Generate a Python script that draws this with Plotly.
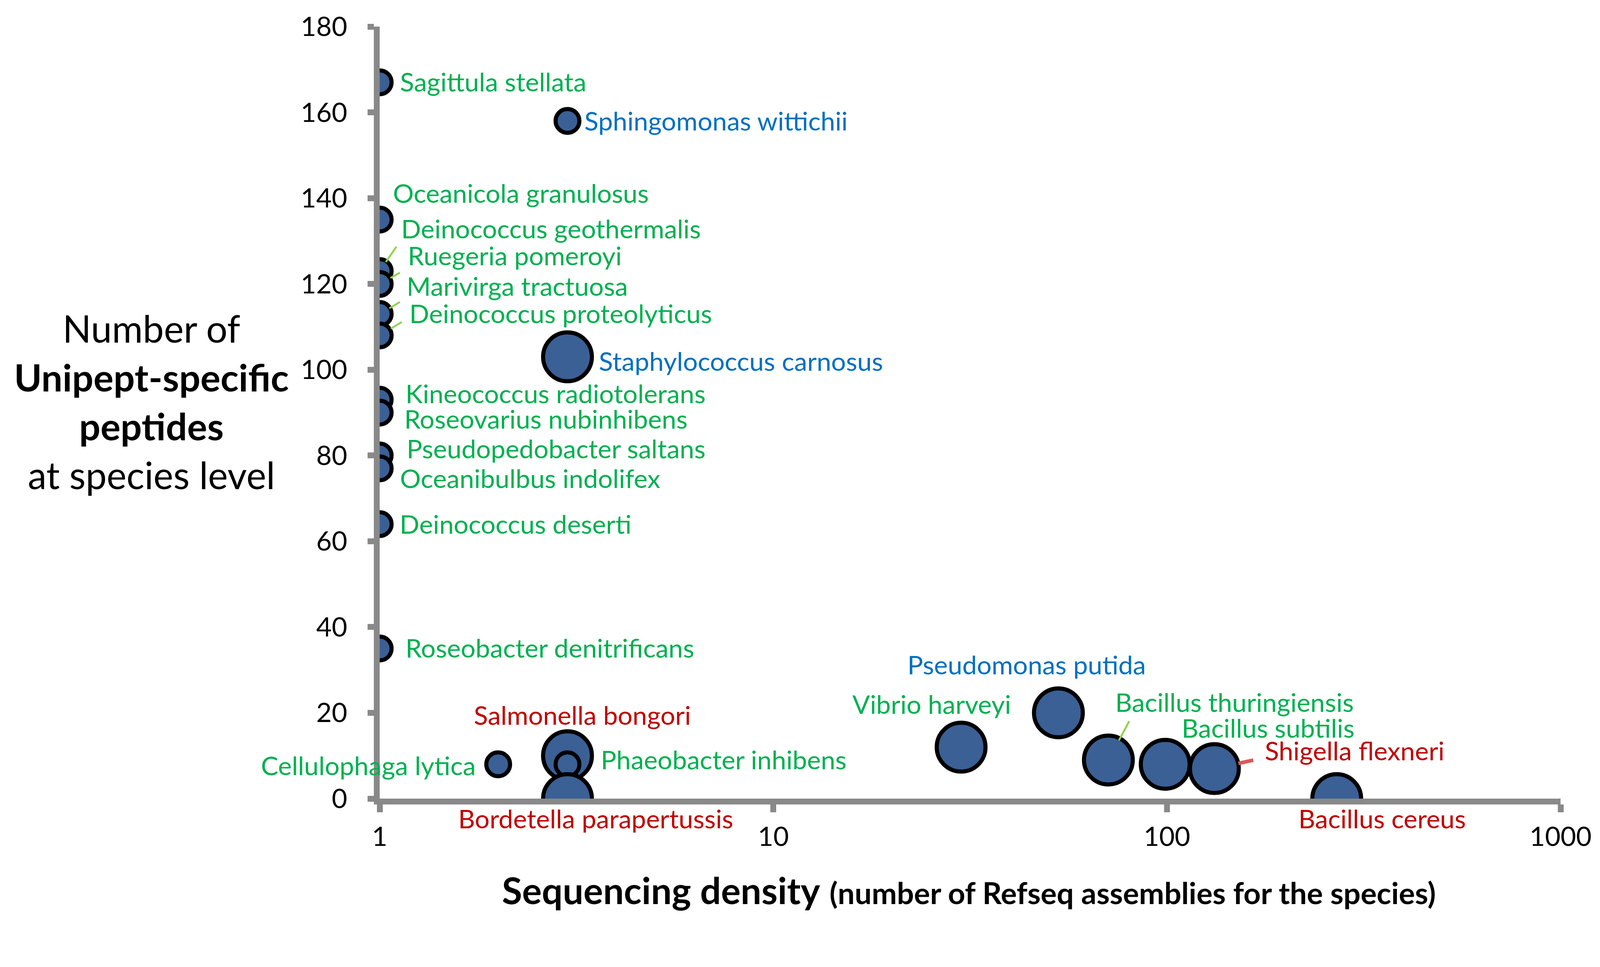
import math
import plotly.graph_objects as go

# ---------------- data ----------------
species = [
    "Sagittula stellata", "Oceanicola granulosus", "Deinococcus geothermalis",
    "Ruegeria pomeroyi", "Marivirga tractuosa", "Deinococcus proteolyticus",
    "Kineococcus radiotolerans", "Roseovarius nubinhibens", "Pseudopedobacter saltans",
    "Oceanibulbus indolifex", "Deinococcus deserti", "Roseobacter denitrificans",
    "Sphingomonas wittichii", "Staphylococcus carnosus", "Cellulophaga lytica",
    "Salmonella bongori", "Phaeobacter inhibens", "Bordetella parapertussis",
    "Vibrio harveyi", "Pseudomonas putida", "Bacillus thuringiensis",
    "Bacillus subtilis", "Shigella flexneri", "Bacillus cereus",
]
refseq_assemblies = [1, 1, 1, 1, 1, 1, 1, 1, 1, 1, 1, 1,
                     3, 3, 2, 3, 3, 3, 30, 53, 71, 99, 132, 270]
unipept_peptides = [167, 135, 123, 120, 113, 108, 93, 90, 80, 77, 64, 35,
                    158, 103, 8, 10, 8, 0, 12, 20, 9, 8, 7, 0]
bubble_value = [1, 1, 1, 1, 1, 1, 1, 1, 1, 1, 1, 1,
                1, 4.2, 1, 4.2, 1, 4.2, 4.2, 4.2, 4.2, 4.2, 4.2, 4.2]
label_class = ["g", "g", "g", "g", "g", "g", "g", "g", "g", "g", "g", "g",
               "b", "b", "g", "r", "g", "r", "g", "b", "g", "g", "r", "r"]

x_tick_vals = [1, 10, 100, 1000]
y_tick_vals = [0, 20, 40, 60, 80, 100, 120, 140, 160, 180]

# ---------------- styles / geometry ----------------
# the page is photographed at ~1.05 device pixels per CSS pixel, with an 8px body margin
DPR = 1.05
BODY = 8


def S(v):  # length in target pixels -> CSS pixels
    return v / DPR


def P(v):  # absolute position in target pixels -> CSS pixels
    return v / DPR - BODY


FONT = "Lato"
class_color = {"g": "#00B050", "b": "#0070C0", "r": "#C00000"}
AXIS_GRAY = "#898989"
FILL = "#3A6095"
BASE_D = 64  # marker diameter (target px) for bubble value 1
LABEL_LIFT = 5  # global vertical nudge of the data labels (target px)

# plot area in target pixels
PLOT_L, PLOT_R, PLOT_T, PLOT_B = 1021, 4195, 71.5, 2146
FIG_W, FIG_H = 4309, 2475

l_css = P(PLOT_L)
t_css = P(PLOT_T)
w_css = S(PLOT_R - PLOT_L)
h_css = S(PLOT_B - PLOT_T)
fig_w_css = P(FIG_W)
fig_h_css = P(FIG_H)
r_css = fig_w_css - l_css - w_css
b_css = fig_h_css - t_css - h_css

# label placement: anchor, xshift, yshift (target pixels relative to the bubble centre)
label_pos = {
    "Sagittula stellata": ("left", 53, -2),
    "Sphingomonas wittichii": ("left", 43, -3),
    "Oceanicola granulosus": ("left", 34, 67),
    "Deinococcus geothermalis": ("left", 56, 110),
    "Ruegeria pomeroyi": ("left", 73, 72),
    "Marivirga tractuosa": ("left", 70, 71),
    "Deinococcus proteolyticus": ("left", 78, 55),
    "Staphylococcus carnosus": ("left", 82, -15),
    "Kineococcus radiotolerans": ("left", 67, 13),
    "Roseovarius nubinhibens": ("left", 64, -21),
    "Pseudopedobacter saltans": ("left", 70, 15),
    "Oceanibulbus indolifex": ("left", 53, -31),
    "Deinococcus deserti": ("left", 51, -4),
    "Roseobacter denitrificans": ("left", 67, -2),
    "Pseudomonas putida": ("center", -86, 126),
    "Vibrio harveyi": ("center", -79, 112),
    "Salmonella bongori": ("center", 40, 105),
    "Bacillus thuringiensis": ("left", 16, 152),
    "Bacillus subtilis": ("left", 42, 94),
    "Shigella flexneri": ("left", 134, 44),
    "Cellulophaga lytica": ("right", -58, -7),
    "Phaeobacter inhibens": ("left", 87, 9),
    "Bordetella parapertussis": ("center", 76, -58),
    "Bacillus cereus": ("center", 122, -58),
}

# leader lines: tail offset (ax, ay), standoff, colour, width (target pixels)
leaders = {
    "Deinococcus geothermalis": (46, -67, 29, "#92D050", 5),
    "Ruegeria pomeroyi": (56, -31, 33, "#92D050", 5),
    "Marivirga tractuosa": (56, -33, 30, "#92D050", 5),
    "Deinococcus proteolyticus": (61, -37, 35, "#92D050", 5),
    "Bacillus thuringiensis": (57, -106, 60, "#92D050", 5),
    "Shigella flexneri": (106, -23, 66, "#D65B5B", 10),
}

marker_sizes = [S(BASE_D * math.sqrt(v)) for v in bubble_value]

fig = go.Figure()
fig.add_trace(go.Scatter(
    x=refseq_assemblies, y=unipept_peptides, mode="markers",
    text=species, hoverinfo="text",
    marker=dict(size=marker_sizes, sizemode="diameter", color=FILL,
                line=dict(color="black", width=S(11)), opacity=1),
    cliponaxis=True, showlegend=False,
))

annotations = []
for name, xv, yv, cls in zip(species, refseq_assemblies, unipept_peptides, label_class):
    anchor, xs, ys = label_pos[name]
    annotations.append(dict(
        x=math.log10(xv), y=yv, xref="x", yref="y", text=name, showarrow=False,
        xanchor=anchor, yanchor="middle", xshift=S(xs), yshift=S(ys + LABEL_LIFT),
        font=dict(family=FONT, size=S(70), color=class_color[cls]),
    ))
    if name in leaders:
        ax, ay, so, col, w = leaders[name]
        annotations.append(dict(
            x=math.log10(xv), y=yv, xref="x", yref="y", text="", showarrow=True,
            ax=S(ax), ay=S(ay), arrowhead=0, arrowwidth=S(w), arrowcolor=col,
            standoff=S(so),
        ))


def paper_x(px):
    return (P(px) - l_css) / w_css


def paper_y(py):
    return (t_css + h_css - P(py)) / h_css


# axis titles
annotations.append(dict(
    xref="paper", yref="paper", x=paper_x(407), y=paper_y(1078),
    text="Number of<br><b>Unipept-specific</b><br><b>peptides</b><br>at species level",
    showarrow=False, xanchor="center", yanchor="middle", align="center",
    font=dict(family=FONT, size=S(101), color="black"),
))
annotations.append(dict(
    xref="paper", yref="paper", x=paper_x(2605), y=paper_y(2391),
    text=("<b>Sequencing density</b> <b><span style='font-size:%.1fpx'>"
          "(number of Refseq assemblies for the species)</span></b>") % S(81),
    showarrow=False, xanchor="center", yanchor="middle",
    font=dict(family=FONT, size=S(99), color="black"),
))

fig.update_layout(
    width=round(fig_w_css), height=round(fig_h_css),
    margin=dict(l=l_css, r=r_css, t=t_css, b=b_css, pad=0),
    paper_bgcolor="white", plot_bgcolor="white",
    annotations=annotations,
    xaxis=dict(type="log", range=[0, 3], tickvals=x_tick_vals,
               ticktext=[str(v) for v in x_tick_vals],
               showgrid=False, zeroline=False, showline=True,
               linecolor=AXIS_GRAY, linewidth=S(16),
               ticks="outside", ticklen=S(21), tickwidth=S(16), tickcolor=AXIS_GRAY,
               tickfont=dict(family=FONT, size=S(72), color="black"),
               ticklabelstandoff=4),
    yaxis=dict(range=[0, 180], tickvals=y_tick_vals,
               showgrid=False, zeroline=False, showline=True,
               linecolor=AXIS_GRAY, linewidth=S(16),
               ticks="outside", ticklen=S(17), tickwidth=S(16), tickcolor=AXIS_GRAY,
               tickfont=dict(family=FONT, size=S(72), color="black"),
               ticklabelstandoff=38),
)

fig.write_html("out.html")
